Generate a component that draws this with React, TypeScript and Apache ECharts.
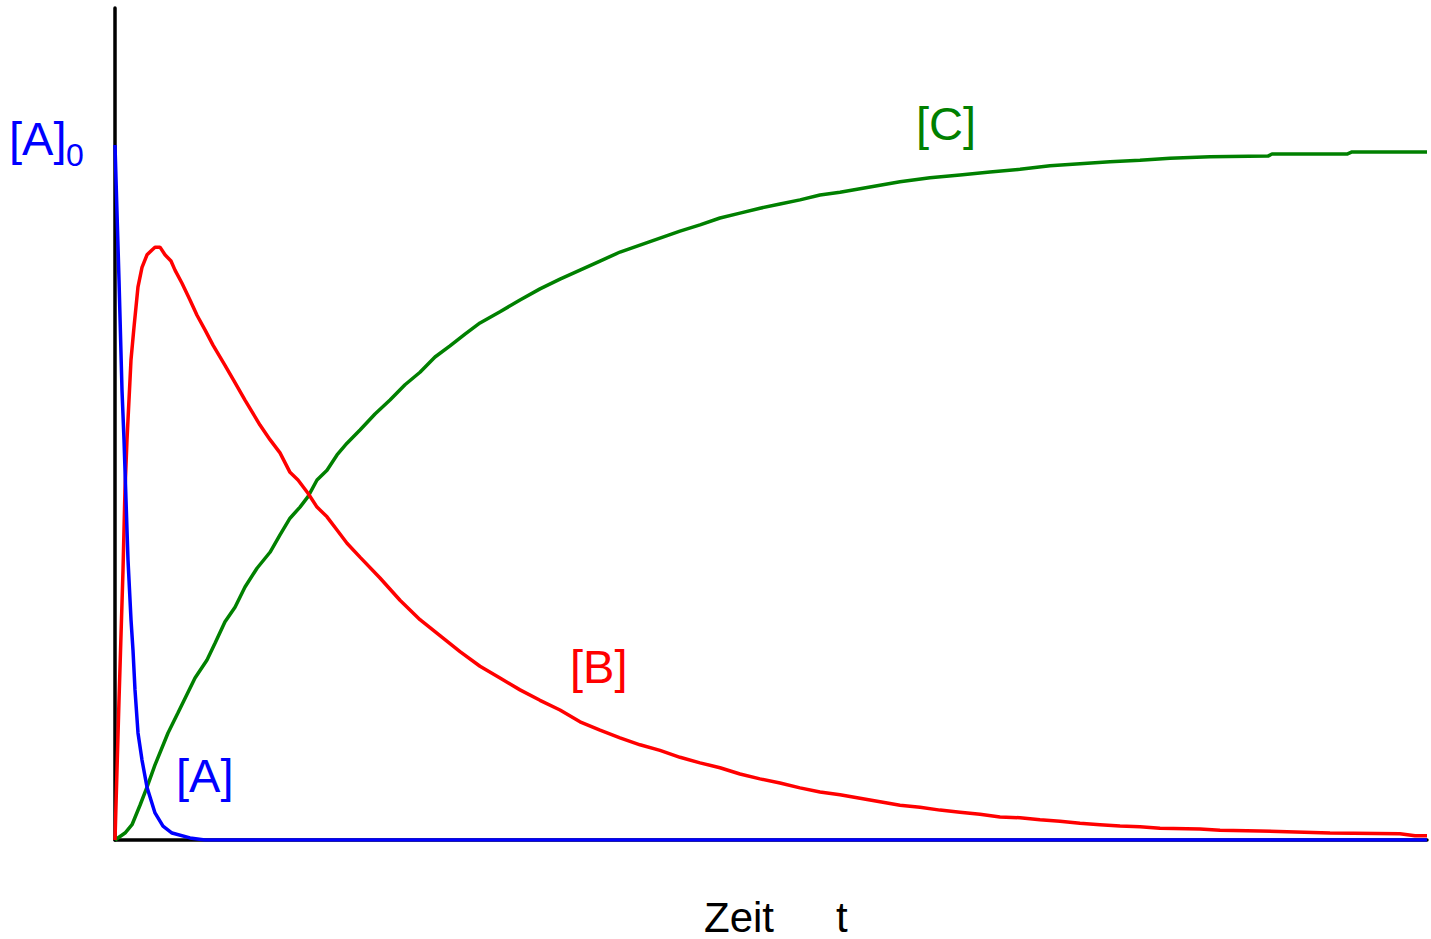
import React, { useEffect, useRef } from "react";
import * as echarts from "echarts";

// Consecutive reaction A -> B -> C: concentrations over time (relative to [A]0 = 1)
const T_MAX = 1312;
const Y_MAX = 832 / 695;

// [A]: reactant, decays quickly
const concA: [number, number][] = [
  [0, 1.0], [4, 0.806], [7, 0.647], [9, 0.576], [11, 0.489], [13, 0.403],
  [16, 0.317], [18, 0.273], [20, 0.216], [23, 0.154], [27, 0.115], [32, 0.076],
  [40, 0.039], [48, 0.02], [57, 0.01], [75, 0.003], [90, 0], [1312, 0],
];

// [B]: intermediate, rises then decays
const concB: [number, number][] = [
  [0, 0], [4, 0.201], [8, 0.388], [10, 0.504], [12, 0.576], [15, 0.662],
  [16, 0.691], [19, 0.738], [23, 0.796], [27, 0.824], [32, 0.842], [37, 0.849],
  [40, 0.853], [45, 0.853], [50, 0.842], [56, 0.833], [60, 0.82], [67, 0.801],
  [75, 0.777], [82, 0.755], [90, 0.734], [98, 0.712], [110, 0.683], [120, 0.658],
  [130, 0.633], [145, 0.597], [155, 0.576], [165, 0.557], [175, 0.529], [183, 0.518],
  [193, 0.499], [202, 0.479], [212, 0.465], [222, 0.446], [232, 0.427], [245, 0.407],
  [265, 0.377], [285, 0.345], [305, 0.317], [325, 0.294], [345, 0.271], [365, 0.25],
  [385, 0.233], [405, 0.216], [425, 0.201], [445, 0.187], [465, 0.17], [485, 0.158],
  [505, 0.147], [525, 0.137], [545, 0.129], [565, 0.119], [585, 0.111], [605, 0.104],
  [625, 0.095], [645, 0.088], [665, 0.082], [685, 0.075], [705, 0.069], [725, 0.065],
  [745, 0.06], [765, 0.055], [785, 0.05], [805, 0.047], [825, 0.043], [845, 0.04],
  [865, 0.037], [885, 0.033], [905, 0.032], [925, 0.029], [945, 0.027], [965, 0.024],
  [985, 0.022], [1005, 0.02], [1025, 0.019], [1045, 0.017], [1085, 0.016], [1105, 0.014],
  [1145, 0.013], [1215, 0.01], [1285, 0.009], [1300, 0.006], [1312, 0.006],
];

// [C]: product, approaches [A]0
const concC: [number, number][] = [
  [0, 0], [10, 0.01], [17, 0.022], [25, 0.05], [32, 0.076], [40, 0.108],
  [53, 0.154], [63, 0.183], [80, 0.233], [92, 0.259], [100, 0.283], [110, 0.314],
  [120, 0.335], [130, 0.364], [142, 0.391], [155, 0.414], [165, 0.439], [175, 0.463],
  [185, 0.479], [193, 0.494], [202, 0.518], [212, 0.532], [222, 0.554], [232, 0.571],
  [245, 0.59], [260, 0.613], [275, 0.633], [290, 0.655], [305, 0.673], [320, 0.695],
  [335, 0.711], [350, 0.728], [365, 0.744], [385, 0.76], [405, 0.777], [425, 0.793],
  [445, 0.807], [465, 0.82], [485, 0.833], [505, 0.846], [525, 0.856], [545, 0.866],
  [565, 0.876], [585, 0.885], [605, 0.895], [625, 0.902], [645, 0.909], [665, 0.915],
  [685, 0.921], [705, 0.928], [725, 0.932], [745, 0.937], [765, 0.942], [785, 0.947],
  [815, 0.953], [845, 0.957], [875, 0.961], [905, 0.965], [935, 0.97], [965, 0.973],
  [995, 0.976], [1025, 0.978], [1055, 0.981], [1095, 0.983], [1153, 0.984], [1157, 0.987],
  [1232, 0.987], [1237, 0.99], [1312, 0.99],
];

const BLUE = "#0000ff";
const RED = "#ff0000";
const GREEN = "#008000";
const FONT = "'Liberation Sans', Arial, sans-serif";

export default function App() {
  const ref = useRef<HTMLDivElement>(null);

  useEffect(() => {
    if (!ref.current) return;
    const chart = echarts.init(ref.current, undefined, { renderer: "svg" });

    const line = (data: [number, number][], color: string, z: number) => ({
      type: "line",
      data,
      showSymbol: false,
      smooth: false,
      z,
      lineStyle: { color, width: 3.5 },
      itemStyle: { color },
    });

    const label = (text: string, x: number, y: number, color: string, size: number) => ({
      type: "text",
      x,
      y,
      style: {
        text,
        fill: color,
        font: `${size}px ${FONT}`,
        textAlign: "left",
        textVerticalAlign: "middle",
      },
    });

    chart.setOption({
      animation: false,
      backgroundColor: "#ffffff",
      grid: { left: 115, right: 4, top: 8, bottom: 99 },
      xAxis: {
        type: "value",
        min: 0,
        max: T_MAX,
        offset: 1.5,
        axisLine: { show: true, lineStyle: { color: "#000", width: 3.5 } },
        axisTick: { show: false },
        axisLabel: { show: false },
        splitLine: { show: false },
      },
      yAxis: {
        type: "value",
        min: 0,
        max: Y_MAX,
        axisLine: { show: true, lineStyle: { color: "#000", width: 3.5, cap: "round" } },
        axisTick: { show: false },
        axisLabel: { show: false },
        splitLine: { show: false },
      },
      series: [line(concC, GREEN, 2), line(concB, RED, 3), line(concA, BLUE, 4)],
      graphic: [
        label("[A]", 9, 138.5, BLUE, 47),
        label("0", 66, 154.5, BLUE, 32),
        label("[A]", 176, 775.5, BLUE, 47),
        label("[B]", 570, 666.5, RED, 47),
        label("[C]", 916, 123.5, GREEN, 47),
        label("Zeit", 704, 917, "#000", 42),
        label("t", 836, 917, "#000", 42),
      ],
    });

    return () => chart.dispose();
  }, []);

  return (
    <div
      ref={ref}
      style={{ position: "fixed", left: 0, top: 0, width: 1431, height: 939, background: "#fff" }}
    />
  );
}
